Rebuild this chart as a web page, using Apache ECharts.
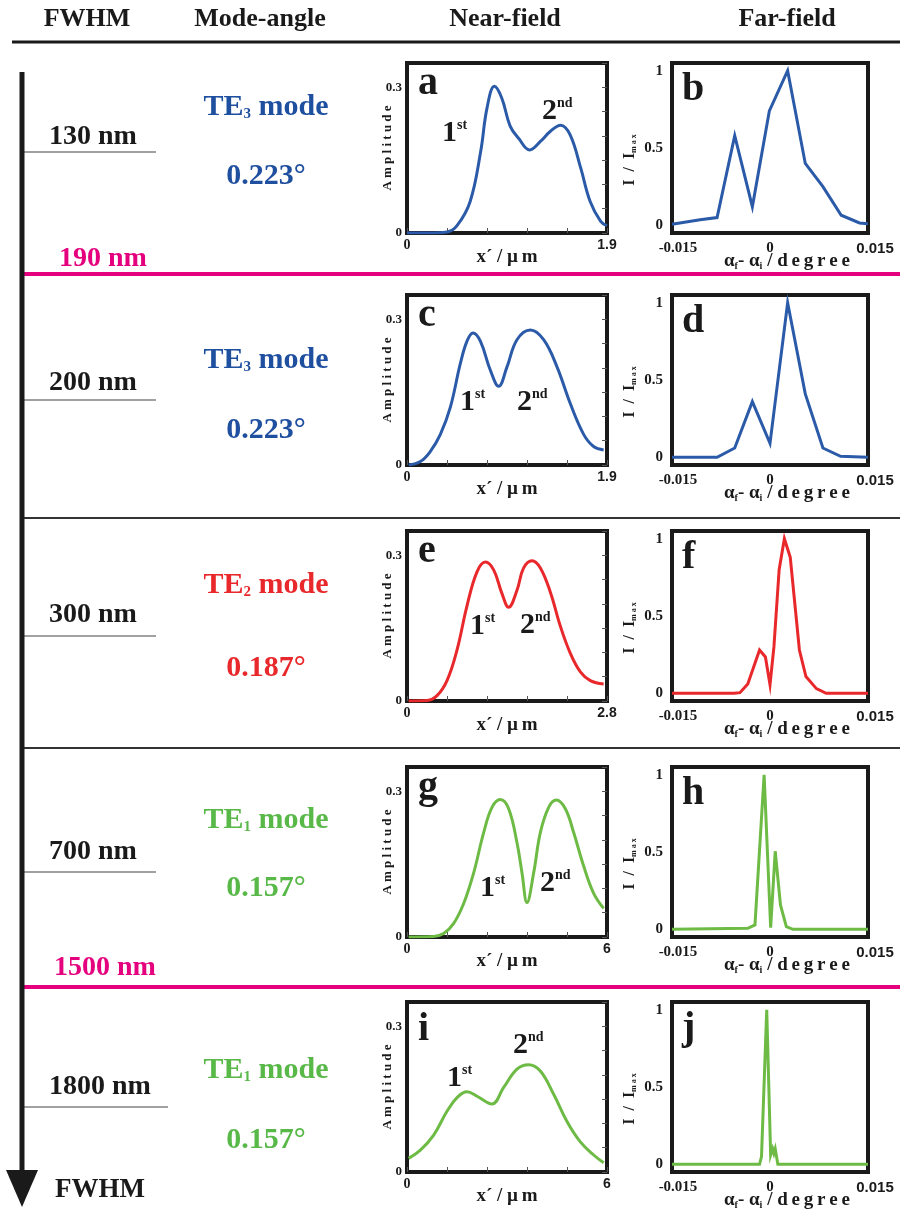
<!DOCTYPE html>
<html>
<head>
<meta charset="utf-8">
<script src="https://cdn.jsdelivr.net/npm/echarts@6/dist/echarts.min.js"></script>
<style>
  html, body { margin: 0; padding: 0; background: #fff; }
  #chart { width: 900px; height: 1216px; }
</style>
</head>
<body>
<div id="chart"></div>
<script>
// ---- data ----
const headers = ['FWHM', 'Mode-angle', 'Near-field', 'Far-field'];
const fwhmLabels = ['130 nm', '200 nm', '300 nm', '700 nm', '1800 nm'];
const boundaryLabels = ['190 nm', '1500 nm'];
const modeOrders = ['3', '3', '2', '1', '1'];
const modeAngles = ['0.223°', '0.223°', '0.187°', '0.157°', '0.157°'];
const nearLetters = ['a', 'c', 'e', 'g', 'i'];
const farLetters = ['b', 'd', 'f', 'h', 'j'];
const nearXMax = [1.9, 1.9, 2.8, 6, 6];

// near-field amplitude profiles (x in µm)
const nearAx = [0, 0.2, 0.38, 0.475, 0.6, 0.7, 0.76, 0.83, 0.9, 0.98, 1.06, 1.165, 1.27, 1.36, 1.46, 1.55, 1.65, 1.74, 1.84, 1.9];
const nearAy = [0, 0, 0.002, 0.015, 0.065, 0.168, 0.257, 0.302, 0.278, 0.22, 0.195, 0.171, 0.189, 0.209, 0.222, 0.202, 0.134, 0.065, 0.024, 0.015];
const nearCx = [0.016, 0.127, 0.222, 0.317, 0.412, 0.507, 0.57, 0.627, 0.697, 0.792, 0.871, 0.95, 1.045, 1.172, 1.298, 1.425, 1.552, 1.678, 1.773, 1.868];
const nearCy = [0, 0.007, 0.028, 0.063, 0.119, 0.209, 0.255, 0.272, 0.255, 0.195, 0.162, 0.202, 0.258, 0.278, 0.258, 0.202, 0.126, 0.063, 0.038, 0.031];
const nearEx = [0.023, 0.28, 0.42, 0.56, 0.7, 0.84, 0.98, 1.097, 1.213, 1.33, 1.423, 1.54, 1.633, 1.75, 1.867, 2.007, 2.147, 2.287, 2.427, 2.567, 2.753];
const nearEy = [0, 0.001, 0.011, 0.042, 0.105, 0.196, 0.266, 0.286, 0.27, 0.221, 0.193, 0.228, 0.274, 0.289, 0.274, 0.224, 0.154, 0.098, 0.06, 0.042, 0.035];
const nearGx = [0.05, 0.8, 1.1, 1.4, 1.7, 2.0, 2.3, 2.55, 2.8, 3.05, 3.3, 3.45, 3.6, 3.8, 4.0, 4.25, 4.48, 4.75, 5.0, 5.3, 5.6, 5.9];
const nearGy = [0, 0.001, 0.007, 0.028, 0.069, 0.132, 0.215, 0.267, 0.283, 0.264, 0.194, 0.132, 0.071, 0.132, 0.215, 0.267, 0.282, 0.264, 0.215, 0.146, 0.09, 0.059];
const nearIx = [0.05, 0.4, 0.8, 1.2, 1.5, 1.8, 2.1, 2.55, 2.9, 3.3, 3.65, 4.0, 4.4, 4.8, 5.2, 5.6, 5.9];
const nearIy = [0.028, 0.045, 0.076, 0.125, 0.153, 0.165, 0.156, 0.14, 0.174, 0.212, 0.221, 0.208, 0.16, 0.104, 0.062, 0.035, 0.019];

// far-field intensity (x in degree)
const farBx = [-0.015, -0.0107, -0.0081, -0.0054, -0.0027, -0.0001, 0.0027, 0.0054, 0.0081, 0.0109, 0.0137, 0.015];
const farBy = [0.006, 0.036, 0.05, 0.58, 0.12, 0.74, 1.0, 0.4, 0.25, 0.065, 0.015, 0.01];
const farDx = [-0.015, -0.0081, -0.0054, -0.0027, 0, 0.0027, 0.0054, 0.0081, 0.0108, 0.015];
const farDy = [0, 0, 0.06, 0.36, 0.09, 1.0, 0.41, 0.06, 0.006, 0];
const farFx = [-0.015, -0.0055, -0.0046, -0.0034, -0.0016, -0.0007, 0, 0.0006, 0.0014, 0.0022, 0.0031, 0.0045, 0.0055, 0.0071, 0.0086, 0.015];
const farFy = [0, 0, 0.004, 0.06, 0.28, 0.235, 0.055, 0.3, 0.8, 1.0, 0.88, 0.28, 0.108, 0.03, 0, 0];
const farHx = [-0.015, -0.0034, -0.0023, -0.0009, 0.0001, 0.0008, 0.0016, 0.0025, 0.0035, 0.015];
const farHy = [0, 0.006, 0.028, 1.0, 0.01, 0.505, 0.157, 0.017, 0, 0];
const farJx = [-0.015, -0.0016, -0.0013, -0.0005, 0.0001, 0.0004, 0.0006, 0.0008, 0.0012, 0.015];
const farJy = [0, 0, 0.05, 1.0, 0.06, 0.1, 0.07, 0.1, 0, 0];

const nearX = [nearAx, nearCx, nearEx, nearGx, nearIx];
const nearY = [nearAy, nearCy, nearEy, nearGy, nearIy];
const farX = [farBx, farDx, farFx, farHx, farJx];
const farY = [farBy, farDy, farFy, farHy, farJy];

// ---- layout ----
const rowTop = [63, 295, 531, 767, 1002];
const plotH = 170;
const nearLeft = 407, nearW = 200;
const farLeft = 672, farW = 196;
const fwhmY = [137, 383, 615, 852, 1087];
const underY = [152, 400, 636, 872, 1107];
const modeY = [107, 360, 585, 820, 1070];
const angleY = [176, 430, 668, 888, 1140];
const sepLines = [
  { y: 274, color: '#e5007e', w: 4 },
  { y: 518, color: '#333', w: 2 },
  { y: 748, color: '#333', w: 2 },
  { y: 987, color: '#e5007e', w: 4 }
];
// 1st / 2nd label anchors (centre of the digit)
const peakPos = [
  [[450, 133], [550, 111]],
  [[468, 402], [525, 402]],
  [[478, 626], [528, 625]],
  [[488, 888], [548, 883]],
  [[455, 1078], [521, 1045]]
];
const curveColor = ['#2b5ba8', '#2b5ba8', '#e8282b', '#6dbb45', '#6dbb45'];
const textColor = ['#1f4f9f', '#1f4f9f', '#e8282b', '#58b848', '#58b848'];
const pink = '#e5007e';
const ink = '#1a1a1a';
const SERIF = '"Liberation Serif", "Times New Roman", serif';
const SANS = '"Liberation Sans", Arial, sans-serif';
const TS = '\u2009'; // thin space, used to widen spaced-out labels

const near = (a, b) => Math.abs(a - b) < 1e-9;

const grid = [], xAxis = [], yAxis = [], series = [], graphic = [];

function text(x, y, str, o) {
  o = o || {};
  return {
    type: 'text', x: x, y: y, z: 10,
    style: {
      text: str,
      fill: o.fill || ink,
      fontFamily: SERIF,
      fontWeight: 'bold',
      fontSize: o.size || 14,
      align: o.align || 'center',
      verticalAlign: 'middle',
      rich: o.rich
    }
  };
}

for (let r = 0; r < 5; r++) {
  const gi = r * 2;
  grid.push({ left: nearLeft, top: rowTop[r], width: nearW, height: plotH, show: true, borderColor: ink, borderWidth: 4 });
  grid.push({ left: farLeft, top: rowTop[r], width: farW, height: plotH, show: true, borderColor: ink, borderWidth: 4 });

  const xm = nearXMax[r];
  xAxis.push({
    type: 'value', gridIndex: gi, min: 0, max: xm, interval: xm / 5,
    axisLine: { show: false }, splitLine: { show: false },
    axisTick: { show: true, inside: true, length: 5, lineStyle: { color: '#555', width: 1 } },
    axisLabel: {
      margin: 5, color: ink, fontFamily: SERIF, fontWeight: 'bold', fontSize: 14,
      formatter: v => near(v, 0) ? '0' : (near(v, xm) ? '{s|' + xm + '}' : ''),
      rich: { s: { fontFamily: SANS, fontWeight: 'bold', fontSize: 14, color: ink } }
    },
    name: 'x´ / µ' + TS + 'm', nameLocation: 'middle', nameGap: 15, nameMoveOverlap: false,
    nameTextStyle: { color: ink, fontFamily: SERIF, fontWeight: 'bold', fontSize: 19 }
  });
  xAxis.push({
    type: 'value', gridIndex: gi + 1, min: -0.015, max: 0.015, interval: 0.015,
    axisLine: { show: false }, splitLine: { show: false }, axisTick: { show: false },
    axisLabel: {
      margin: 8, color: ink, fontFamily: SERIF, fontWeight: 'bold', fontSize: 15,
      formatter: v => near(v, 0.015) ? '{s|0.015}' : (near(v, 0) ? '0' : '{m|-0.015}'),
      rich: {
        s: { fontFamily: SANS, fontWeight: 'bold', fontSize: 15, color: ink, padding: [0, 0, 0, 14] },
        m: { fontFamily: SERIF, fontWeight: 'bold', fontSize: 15, color: ink, padding: [0, 0, 0, 12] }
      }
    },
    name: '{a|α}{s|f}{a|- α}{s|i}{a| / ' + 'degree'.split('').join(TS) + '}', nameLocation: 'middle', nameGap: 18, nameMoveOverlap: false,
    nameTextStyle: {
      padding: [0, 0, 0, 34],
      rich: {
        a: { color: ink, fontFamily: SERIF, fontWeight: 'bold', fontSize: 19, lineHeight: 20 },
        s: { color: ink, fontFamily: SERIF, fontWeight: 'bold', fontSize: 10, verticalAlign: 'bottom', lineHeight: 8 }
      }
    }
  });

  const yIdx = yAxis.length;
  yAxis.push({
    type: 'value', gridIndex: gi, min: 0, max: 0.35, interval: 0.05,
    axisLine: { show: false }, splitLine: { show: false }, axisTick: { show: false },
    axisLabel: {
      margin: 5, color: ink, fontFamily: SERIF, fontWeight: 'bold', fontSize: 13,
      formatter: v => near(v, 0) ? '0' : (near(v, 0.3) ? '0.3' : '')
    },
    name: 'Amplitude'.split('').join(' '), nameLocation: 'middle', nameRotate: 90, nameGap: 13, nameMoveOverlap: false,
    nameTextStyle: { color: ink, fontFamily: SERIF, fontWeight: 'bold', fontSize: 13 }
  });
  yAxis.push({
    type: 'value', gridIndex: gi, position: 'right', min: 0, max: 0.35, interval: 0.05,
    axisLine: { show: false }, splitLine: { show: false }, axisLabel: { show: false },
    axisTick: { show: true, inside: true, length: 5, lineStyle: { color: '#555', width: 1 } }
  });
  const yFar = yAxis.length;
  yAxis.push({
    type: 'value', gridIndex: gi + 1, min: -0.05, max: 1.05, interval: 0.05,
    axisLine: { show: false }, splitLine: { show: false }, axisTick: { show: false },
    axisLabel: {
      margin: 9, color: ink, fontFamily: SERIF, fontWeight: 'bold', fontSize: 15,
      formatter: v => near(v, 0) ? '0' : (near(v, 0.5) ? '0.5' : (near(v, 1) ? '1' : ''))
    },
    name: '{a|I  /  I}{s|m a x}', nameLocation: 'middle', nameRotate: 90, nameGap: 34, nameMoveOverlap: false,
    nameTextStyle: {
      rich: {
        a: { color: ink, fontFamily: SERIF, fontWeight: 'bold', fontSize: 16, lineHeight: 16 },
        s: { color: ink, fontFamily: SERIF, fontWeight: 'bold', fontSize: 8, verticalAlign: 'bottom', lineHeight: 8, padding: [0, 24, 0, 0] }
      }
    }
  });

  series.push({
    type: 'line', xAxisIndex: gi, yAxisIndex: yIdx, showSymbol: false, smooth: 0.4, silent: true,
    lineStyle: { color: curveColor[r], width: 3 },
    data: nearX[r].map((x, i) => [x, nearY[r][i]])
  });
  series.push({
    type: 'line', xAxisIndex: gi + 1, yAxisIndex: yFar, showSymbol: false, silent: true,
    lineStyle: { color: curveColor[r], width: 3, join: 'miter' },
    data: farX[r].map((x, i) => [x, farY[r][i]])
  });

  // panel letters
  const tall = nearLetters[r] === 'i' ? 7 : 0;
  graphic.push(text(nearLeft + 11, rowTop[r] + 21 + tall, nearLetters[r], { size: 40, align: 'left' }));
  graphic.push(text(farLeft + 10, rowTop[r] + 27, farLetters[r], { size: 40, align: 'left' }));

  // 1st / 2nd
  const sup = {
    n: { fontFamily: SERIF, fontWeight: 'bold', fontSize: 30, fill: ink, lineHeight: 30 },
    u: { fontFamily: SERIF, fontWeight: 'bold', fontSize: 14, fill: ink, verticalAlign: 'top', lineHeight: 14 }
  };
  graphic.push(text(peakPos[r][0][0] - 8, peakPos[r][0][1], '{n|1}{u|st}', { align: 'left', rich: sup }));
  graphic.push(text(peakPos[r][1][0] - 8, peakPos[r][1][1], '{n|2}{u|nd}', { align: 'left', rich: sup }));

  // left columns
  graphic.push(text(r === 4 ? 100 : 93, fwhmY[r], fwhmLabels[r], { size: 28 }));
  graphic.push({ type: 'line', shape: { x1: 22, y1: underY[r], x2: r === 4 ? 168 : 156, y2: underY[r] }, style: { stroke: '#444', lineWidth: 1.2 } });
  graphic.push(text(266, modeY[r], '{m|TE}{s|' + modeOrders[r] + '}{m| mode}', {
    rich: {
      m: { fontFamily: SERIF, fontWeight: 'bold', fontSize: 30, fill: textColor[r], lineHeight: 30 },
      s: { fontFamily: SERIF, fontWeight: 'bold', fontSize: 15, fill: textColor[r], verticalAlign: 'bottom', lineHeight: 10 }
    }
  }));
  graphic.push(text(266, angleY[r], modeAngles[r], { size: 30, fill: textColor[r] }));
}

// header
const headerX = [87, 260, 505, 787];
headers.forEach((h, i) => graphic.push(text(headerX[i], 19, h, { size: 26 })));
graphic.push({ type: 'line', shape: { x1: 12, y1: 42, x2: 900, y2: 42 }, style: { stroke: ink, lineWidth: 3 } });

// row separators
sepLines.forEach(s => graphic.push({ type: 'line', shape: { x1: 22, y1: s.y, x2: 900, y2: s.y }, style: { stroke: s.color, lineWidth: s.w } }));
graphic.push(text(103, 259, boundaryLabels[0], { size: 28, fill: pink }));
graphic.push(text(105, 968, boundaryLabels[1], { size: 28, fill: pink }));

// FWHM arrow
graphic.push({ type: 'line', shape: { x1: 22, y1: 72, x2: 22, y2: 1180 }, style: { stroke: ink, lineWidth: 5 } });
graphic.push({ type: 'polygon', shape: { points: [[6, 1170], [38, 1170], [22, 1207]] }, style: { fill: ink } });
graphic.push(text(100, 1190, 'FWHM', { size: 27 }));

const chart = echarts.init(document.getElementById('chart'), null, { renderer: 'canvas' });
chart.setOption({
  animation: false,
  backgroundColor: '#fff',
  grid: grid,
  xAxis: xAxis,
  yAxis: yAxis,
  series: series,
  graphic: graphic
});
</script>
</body>
</html>
